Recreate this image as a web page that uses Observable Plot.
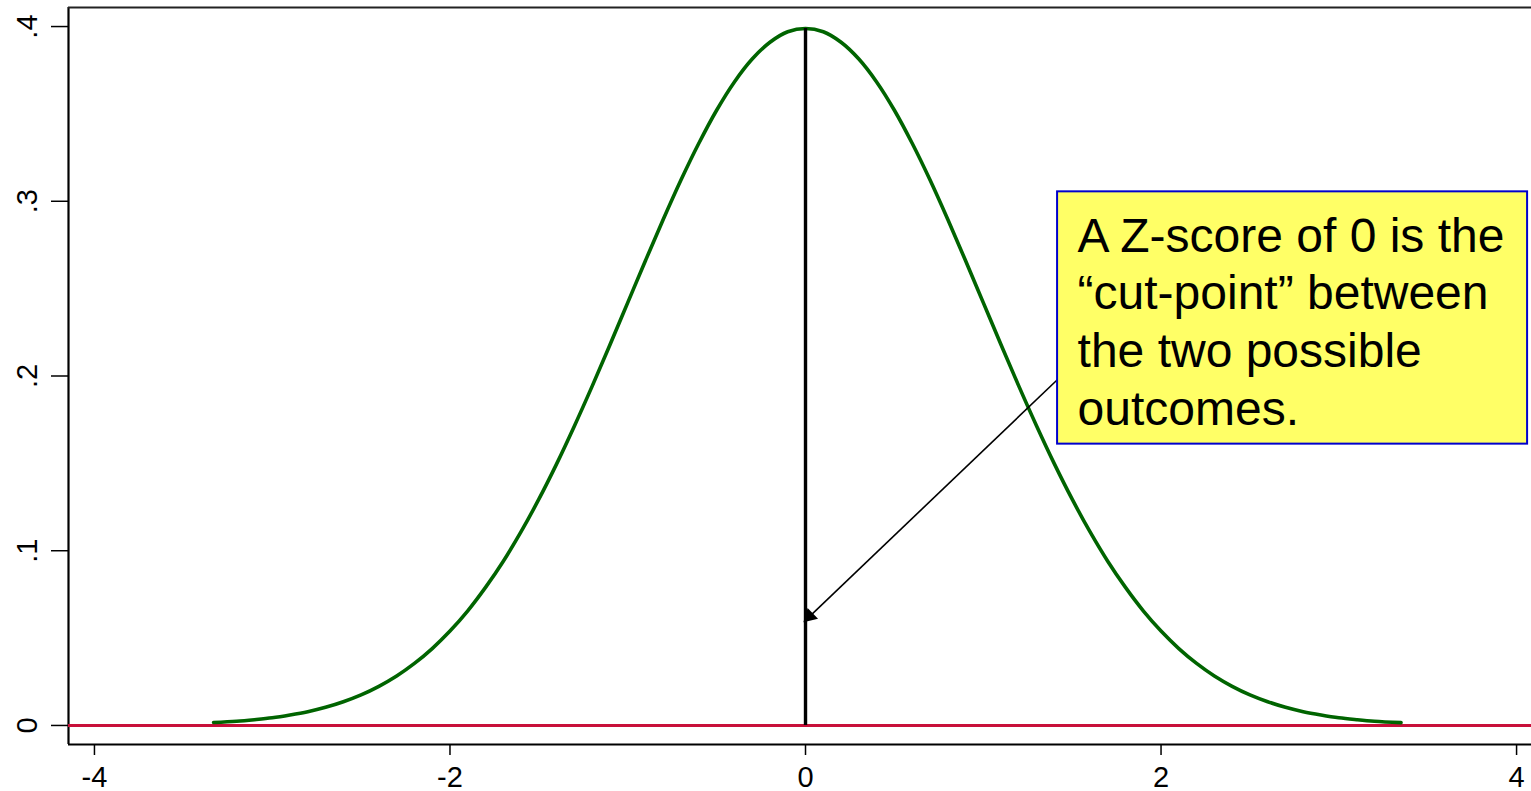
<!DOCTYPE html>
<html>
<head>
<meta charset="utf-8">
<script src="https://cdn.jsdelivr.net/npm/d3@7"></script>
<script src="https://cdn.jsdelivr.net/npm/@observablehq/plot@0.6"></script>
<style>
  html, body { margin: 0; padding: 0; background: #fff; }
  #chart svg { display: block; }
</style>
</head>
<body>
<div id="chart"></div>
<script>
// Estimated density of Z-scores
const zValues = [-3.33, -3.2, -3.1, -3.0, -2.9, -2.8, -2.7, -2.6, -2.5, -2.4, -2.3, -2.2, -2.1, -2.0,
  -1.9, -1.8, -1.7, -1.6, -1.5, -1.4, -1.3, -1.2, -1.1, -1.0, -0.9, -0.8, -0.7, -0.6, -0.5, -0.4,
  -0.3, -0.2, -0.1, 0.0, 0.1, 0.2, 0.3, 0.4, 0.5, 0.6, 0.7, 0.8, 0.9, 1.0, 1.1, 1.2, 1.3, 1.4, 1.5,
  1.6, 1.7, 1.8, 1.9, 2.0, 2.1, 2.2, 2.3, 2.4, 2.5, 2.6, 2.7, 2.8, 2.9, 3.0, 3.1, 3.2, 3.35];
const densityValues = [0.0017, 0.0024, 0.0033, 0.0044, 0.0060, 0.0079, 0.0104, 0.0136, 0.0175, 0.0224,
  0.0283, 0.0355, 0.0440, 0.0540, 0.0656, 0.0790, 0.0940, 0.1109, 0.1295, 0.1497, 0.1714, 0.1942,
  0.2179, 0.2420, 0.2661, 0.2897, 0.3123, 0.3332, 0.3521, 0.3683, 0.3814, 0.3910, 0.3970, 0.3989,
  0.3970, 0.3910, 0.3814, 0.3683, 0.3521, 0.3332, 0.3123, 0.2897, 0.2661, 0.2420, 0.2179, 0.1942,
  0.1714, 0.1497, 0.1295, 0.1109, 0.0940, 0.0790, 0.0656, 0.0540, 0.0440, 0.0355, 0.0283, 0.0224,
  0.0175, 0.0136, 0.0104, 0.0079, 0.0060, 0.0044, 0.0033, 0.0024, 0.0016];

// Axis ticks
const xTicks = [-4, -2, 0, 2, 4];
const xTickLabels = ["-4", "-2", "0", "2", "4"];
const yTicks = [0, 0.1, 0.2, 0.3, 0.4];
const yTickLabels = ["0", ".1", ".2", ".3", ".4"];

// Cut-point and annotation
const cutPoint = 0;
const noteLines = ["A Z-score of 0 is the", "\u201Ccut-point\u201D between", "the two possible", "outcomes."];
const noteBox = {x1: 1.418, x2: 4.062, y1: 0.161, y2: 0.3054};
const arrowFrom = {x: 1.418, y: 0.198};
const arrowTo = {x: -0.012, y: 0.059};

const curve = zValues.map((z, i) => ({z, density: densityValues[i]}));
const peak = d3.max(densityValues);

const font = "'Liberation Sans', Arial, Helvetica, sans-serif";
const W = 1531, H = 791;
const margin = {left: 68, right: 0, top: 7, bottom: 47};
const xDomain = [-4.146, 4.084];
const yDomain = [-0.0109, 0.4109];

// pixels per data unit, used to orient and place the filled arrow head
const kx = (W - margin.left - margin.right) / (xDomain[1] - xDomain[0]);
const ky = (H - margin.top - margin.bottom) / (yDomain[1] - yDomain[0]);
const pdx = (arrowTo.x - arrowFrom.x) * kx;
const pdy = -(arrowTo.y - arrowFrom.y) * ky;
const plen = Math.hypot(pdx, pdy);
const headAngle = Math.atan2(pdx, -pdy) * 180 / Math.PI;
const headR = 5.6;                       // symbol radius
const tipOffset = 2 * Math.sqrt(headR * headR * Math.PI / (Math.sqrt(3) * 3));
const headCenter = {
  x: arrowTo.x - (pdx / plen) * tipOffset / kx,
  y: arrowTo.y + (pdy / plen) * tipOffset / ky
};

const chart = Plot.plot({
  width: W,
  height: H,
  marginLeft: margin.left,
  marginRight: margin.right,
  marginTop: margin.top,
  marginBottom: margin.bottom,
  style: {fontFamily: font, color: "#000", background: "#fff", overflow: "visible"},
  x: {domain: xDomain, label: null},
  y: {domain: yDomain, label: null},
  marks: [
    // frame: left, bottom and top edges
    Plot.ruleX([xDomain[0]], {stroke: "#000", strokeWidth: 2.2}),
    Plot.ruleY([yDomain[0]], {stroke: "#000", strokeWidth: 2.2}),
    Plot.ruleY([yDomain[1]], {stroke: "#222", strokeWidth: 2}),
    Plot.axisX({ticks: xTicks, tickFormat: (d, i) => xTickLabels[i], tickSize: 11, tickPadding: 11,
      fontSize: 29, stroke: "#000", strokeWidth: 1.5, label: null}),
    Plot.axisY({ticks: yTicks, tickFormat: (d, i) => yTickLabels[i], tickSize: 17, tickPadding: 15,
      tickRotate: -90, fontSize: 29, stroke: "#000", strokeWidth: 1.5, label: null}),
    // zero baseline
    Plot.ruleY([0], {stroke: "#c8103a", strokeWidth: 3}),
    // density curve
    Plot.line(curve, {x: "z", y: "density", stroke: "#006400", strokeWidth: 3.6, curve: "catmull-rom"}),
    // cut-point line
    Plot.ruleX([cutPoint], {y1: 0, y2: peak, stroke: "#000", strokeWidth: 3.4}),
    // pointer with a filled head
    Plot.link([0], {x1: arrowFrom.x, y1: arrowFrom.y, x2: headCenter.x, y2: headCenter.y,
      stroke: "#000", strokeWidth: 1.6}),
    Plot.dot([0], {x: headCenter.x, y: headCenter.y, symbol: "triangle", r: headR,
      rotate: headAngle, fill: "#000", stroke: "none"}),
    // annotation box
    Plot.rect([0], {x1: noteBox.x1, x2: noteBox.x2, y1: noteBox.y1, y2: noteBox.y2,
      fill: "#ffff66", stroke: "#0000cc", strokeWidth: 2}),
    Plot.text([noteLines.join("\n")], {x: noteBox.x1, y: noteBox.y2, text: d => d,
      textAnchor: "start", lineAnchor: "top", dx: 20, dy: 19, fontSize: 48, lineHeight: 1.2,
      fill: "#000", fontFamily: font})
  ]
});

document.getElementById("chart").appendChild(chart);
</script>
</body>
</html>
